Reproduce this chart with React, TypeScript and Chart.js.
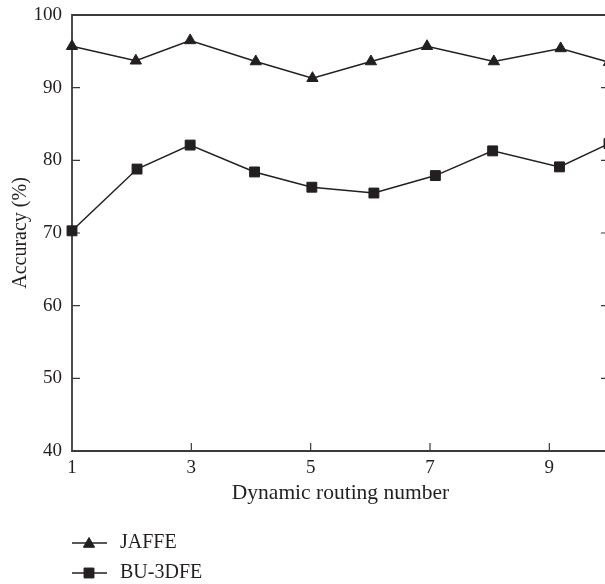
import React, { useEffect, useRef } from "react";
import { Chart, registerables } from "chart.js";

Chart.register(...registerables);

// ---- data ----
const seriesNames = ["JAFFE", "BU-3DFE"];
const jaffeX = [1, 2.07, 2.98, 4.08, 5.03, 6.01, 6.95, 8.07, 9.19, 10];
const jaffeY = [95.7, 93.7, 96.5, 93.6, 91.3, 93.6, 95.7, 93.6, 95.4, 93.5];
const buX = [1, 2.09, 2.98, 4.06, 5.02, 6.06, 7.09, 8.05, 9.17, 10];
const buY = [70.3, 78.8, 82.1, 78.4, 76.3, 75.5, 77.9, 81.3, 79.1, 82.3];
const xTicks = [1, 3, 5, 7, 9];
const yTicks = [40, 50, 60, 70, 80, 90, 100];
const xTitle = "Dynamic routing number";
const yTitle = "Accuracy (%)";

const INK = "#231f20";
const AXIS = "#3a3a3a";
const FONT = "'Liberation Serif', 'Times New Roman', serif";

const framePlugin = {
  id: "frame",
  beforeDatasetsDraw(chart: any) {
    const { ctx, chartArea: a, scales } = chart;
    const x = scales.x;
    const y = scales.y;
    ctx.save();
    ctx.strokeStyle = AXIS;
    ctx.lineWidth = 1.8;
    ctx.beginPath();
    ctx.rect(a.left, a.top, a.right - a.left, a.bottom - a.top);
    ctx.stroke();
    ctx.lineWidth = 1.2;
    ctx.beginPath();
    for (const v of yTicks) {
      const py = y.getPixelForValue(v);
      if (Math.abs(py - a.top) < 1 || Math.abs(py - a.bottom) < 1) continue;
      ctx.moveTo(a.left, py);
      ctx.lineTo(a.left + 8, py);
      ctx.moveTo(a.right, py);
      ctx.lineTo(a.right - 8, py);
    }
    for (const v of xTicks) {
      const px = x.getPixelForValue(v);
      if (Math.abs(px - a.left) < 1) continue;
      ctx.moveTo(px, a.bottom);
      ctx.lineTo(px, a.bottom - 8);
    }
    ctx.stroke();
    ctx.restore();
  },
};

function drawMarker(ctx: CanvasRenderingContext2D, style: string, cx: number, cy: number, r: number) {
  ctx.beginPath();
  if (style === "triangle") {
    let rad = 0;
    ctx.moveTo(cx + Math.sin(rad) * r, cy - Math.cos(rad) * r);
    rad += (2 * Math.PI) / 3;
    ctx.lineTo(cx + Math.sin(rad) * r, cy - Math.cos(rad) * r);
    rad += (2 * Math.PI) / 3;
    ctx.lineTo(cx + Math.sin(rad) * r, cy - Math.cos(rad) * r);
    ctx.closePath();
  } else {
    const s = r * Math.SQRT1_2;
    ctx.rect(cx - s, cy - s, 2 * s, 2 * s);
  }
  ctx.fill();
  ctx.stroke();
}

const legendPlugin = {
  id: "customLegend",
  afterDraw(chart: any) {
    const { ctx } = chart;
    ctx.save();
    chart.data.datasets.forEach((ds: any, i: number) => {
      const cy = 543 + i * 30;
      ctx.strokeStyle = INK;
      ctx.fillStyle = INK;
      ctx.lineWidth = 1.5;
      ctx.beginPath();
      ctx.moveTo(72, cy);
      ctx.lineTo(107, cy);
      ctx.stroke();
      ctx.lineWidth = 1;
      drawMarker(ctx, ds.pointStyle, 89, cy + (ds.pointStyle === "triangle" ? 1 : 0), ds.pointRadius);
      ctx.font = `20px ${FONT}`;
      ctx.textBaseline = "middle";
      ctx.textAlign = "left";
      ctx.fillStyle = INK;
      ctx.fillText(ds.label, 120, cy);
    });
    ctx.restore();
  },
};

export default function App() {
  const ref = useRef<HTMLCanvasElement | null>(null);

  useEffect(() => {
    if (!ref.current) return;
    const chart = new Chart(ref.current, {
      type: "line",
      data: {
        datasets: [
          {
            label: seriesNames[0],
            data: jaffeX.map((xv, i) => ({ x: xv, y: jaffeY[i] })),
            borderColor: INK,
            backgroundColor: INK,
            borderWidth: 1.5,
            pointStyle: "triangle",
            pointRadius: 6.5,
            pointBorderWidth: 1,
            pointBackgroundColor: INK,
            pointBorderColor: INK,
            tension: 0,
            clip: false as any,
          },
          {
            label: seriesNames[1],
            data: buX.map((xv, i) => ({ x: xv, y: buY[i] })),
            borderColor: INK,
            backgroundColor: INK,
            borderWidth: 1.5,
            pointStyle: "rect",
            pointRadius: 7,
            pointBorderWidth: 1,
            pointBackgroundColor: INK,
            pointBorderColor: INK,
            tension: 0,
            clip: false as any,
          },
        ],
      },
      options: {
        animation: false,
        responsive: false,
        devicePixelRatio: 1,
        layout: { padding: { left: 0, right: 0, top: 15, bottom: 0 } },
        plugins: {
          legend: { display: false },
          tooltip: { enabled: false },
        },
        scales: {
          x: {
            type: "linear",
            min: 1,
            max: 10,
            afterBuildTicks: (s: any) => {
              s.ticks = xTicks.map((v) => ({ value: v }));
            },
            afterFit: (s: any) => {
              s.height = 133;
            },
            grid: { display: false, drawTicks: true, tickLength: 6 },
            border: { display: false },
            ticks: {
              font: { family: FONT, size: 19 },
              color: INK,
              padding: 0,
              maxRotation: 0,
              autoSkip: false,
            },
            title: {
              display: true,
              text: xTitle,
              font: { family: FONT, size: 21.5 },
              color: INK,
              padding: { top: 0, bottom: 78 },
            },
          },
          y: {
            type: "linear",
            min: 40,
            max: 100,
            afterBuildTicks: (s: any) => {
              s.ticks = yTicks.map((v) => ({ value: v }));
            },
            afterFit: (s: any) => {
              s.width = 72;
            },
            grid: { display: false, drawTicks: true, tickLength: 10 },
            border: { display: false },
            ticks: {
              font: { family: FONT, size: 19 },
              color: INK,
              padding: 0,
            },
            title: {
              display: true,
              text: yTitle,
              font: { family: FONT, size: 20 },
              color: INK,
              padding: { top: 9, bottom: 0 },
            },
          },
        },
      },
      plugins: [framePlugin, legendPlugin],
    } as any);
    return () => chart.destroy();
  }, []);

  return (
    <div
      style={{
        position: "absolute",
        left: 0,
        top: 0,
        width: 605,
        height: 584,
        overflow: "hidden",
        background: "#fff",
      }}
    >
      <canvas ref={ref} width={617} height={584} style={{ width: 617, height: 584, display: "block" }} />
    </div>
  );
}
